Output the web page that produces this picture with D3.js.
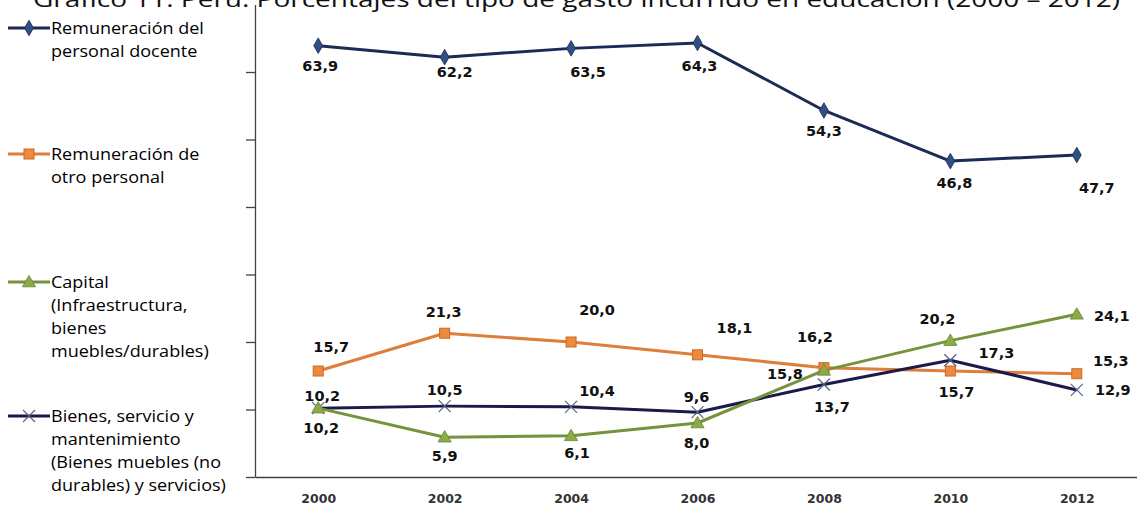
<!DOCTYPE html>
<html><head><meta charset="utf-8">
<script src="https://cdn.jsdelivr.net/npm/d3@7"></script>
<style>
html,body{margin:0;padding:0;background:#fff;}
svg{display:block;}
</style></head>
<body>
<svg id="chart" width="1137" height="506"></svg>
<script>
// ---- data ----
const years = ["2000","2002","2004","2006","2008","2010","2012"];
const docente = [63.9, 62.2, 63.5, 64.3, 54.3, 46.8, 47.7];
const otroPersonal = [15.7, 21.3, 20.0, 18.1, 16.2, 15.7, 15.3];
const capital = [10.2, 5.9, 6.1, 8.0, 15.8, 20.2, 24.1];
const bienes = [10.2, 10.5, 10.4, 9.6, 13.7, 17.3, 12.9];
const yTicks = [0, 10, 20, 30, 40, 50, 60];
const titleText = "Gráfico 11: Perú: Porcentajes del tipo de gasto incurrido en educación (2000 – 2012)";
const legendDocente = ["Remuneración del", "personal docente"];
const legendOtro = ["Remuneración de", "otro personal"];
const legendCapital = ["Capital", "(Infraestructura,", "bienes", "muebles/durables)"];
const legendBienes = ["Bienes, servicio y", "mantenimiento", "(Bienes muebles (no", "durables) y servicios)"];

// ---- layout (label offsets relative to the point) ----
const offDocente = [[2,20],[10,15],[17,24],[2,23],[0,21],[4,22],[20,33]];
const offOtro = [[13,-24],[-1,-21],[26,-32],[37,-27],[-9,-31],[6,21],[34,-13]];
const offCapital = [[3,20],[0,19],[6,17],[-1,20],[-39,4],[-13,-22],[35,2]];
const offBienes = [[4,-12],[0,-16],[26,-16],[-1,-15],[8,22],[46,-7],[36,0]];

const svg = d3.select("#chart");
const fmt = v => d3.format(".1f")(v).replace(".", ",");

const x = d3.scalePoint().domain(years).range([255, 1140]).padding(0.5);
const y = d3.scaleLinear().domain([0, 70]).range([477, 4.5]);

// title (cut off at the top, as in the reference)
svg.append("text")
  .attr("x", 33).attr("y", 7)
  .attr("font-family", "Open Sans, sans-serif")
  .attr("font-size", 22)
  .attr("fill", "#111")
  .attr("textLength", 1087).attr("lengthAdjust", "spacingAndGlyphs")
  .text(titleText);

// axes
const yAxis = svg.append("g").attr("transform", "translate(255,0)")
  .call(d3.axisLeft(y).tickValues(yTicks).tickSize(9).tickSizeOuter(0).tickFormat(""));
yAxis.selectAll("path,line").attr("stroke", "#404040").attr("stroke-width", 1.3);

const xAxis = svg.append("g").attr("transform", "translate(0,477)")
  .call(d3.axisBottom(x).tickSize(0).tickSizeOuter(0).tickPadding(17));
xAxis.select(".domain").attr("stroke", "#404040").attr("stroke-width", 1.3);
xAxis.selectAll("text")
  .attr("font-family", "DejaVu Sans, sans-serif")
  .attr("font-weight", "bold")
  .attr("font-size", 12.5)
  .attr("fill", "#333");

const series = [
  {vals: docente, off: offDocente, line: "#1c2a55", fill: "#2f5083", stroke: "#1c2a55", sym: "diamond"},
  {vals: otroPersonal, off: offOtro, line: "#df7d3a", fill: "#ee8a3c", stroke: "#c8692a", sym: "square"},
  {vals: capital, off: offCapital, line: "#76923c", fill: "#8bab46", stroke: "#6a8533", sym: "triangle"},
  {vals: bienes, off: offBienes, line: "#1b1b4b", fill: "none", stroke: "#5a6384", sym: "cross"}
];

function drawSymbol(g, sym, cx, cy, s) {
  if (sym === "diamond") {
    g.append("path").attr("d", d3.symbol(d3.symbolDiamond, 70)())
      .attr("transform", `translate(${cx},${cy})`).attr("fill", s.fill).attr("stroke", s.stroke).attr("stroke-width", 0.8);
  } else if (sym === "square") {
    g.append("rect").attr("x", cx - 5).attr("y", cy - 5).attr("width", 10).attr("height", 10)
      .attr("fill", s.fill).attr("stroke", s.stroke).attr("stroke-width", 1);
  } else if (sym === "triangle") {
    g.append("path").attr("d", d3.symbol(d3.symbolTriangle, 75)())
      .attr("transform", `translate(${cx},${cy + 1})`).attr("fill", s.fill).attr("stroke", s.stroke).attr("stroke-width", 0.8);
  } else {
    g.append("path").attr("d", `M${cx-6},${cy-6}L${cx+6},${cy+6}M${cx-6},${cy+6}L${cx+6},${cy-6}`)
      .attr("stroke", s.stroke).attr("stroke-width", 1.2).attr("fill", "none");
  }
}

const lineGen = d3.line().x((d, i) => x(years[i])).y(d => y(d));

const order = [1, 3, 2, 0];
order.forEach(k => {
  const s = series[k];
  svg.append("path").datum(s.vals).attr("d", lineGen)
    .attr("fill", "none").attr("stroke", s.line).attr("stroke-width", 3).attr("stroke-linejoin", "round");
});
order.forEach(k => {
  const s = series[k];
  const g = svg.append("g");
  s.vals.forEach((v, i) => drawSymbol(g, s.sym, x(years[i]), y(v), s));
});
series.forEach(s => {
  svg.append("g").selectAll("text").data(s.vals).join("text")
    .attr("x", (d, i) => x(years[i]) + s.off[i][0])
    .attr("y", (d, i) => y(d) + s.off[i][1])
    .attr("text-anchor", "middle")
    .attr("dominant-baseline", "central")
    .attr("font-family", "DejaVu Sans, sans-serif")
    .attr("font-weight", "bold")
    .attr("font-size", 14.5)
    .attr("fill", "#111")
    .text(d => fmt(d));
});

// legend
const legendItems = [
  {lines: legendDocente, ys: [28, 51], s: series[0]},
  {lines: legendOtro, ys: [154, 177], s: series[1]},
  {lines: legendCapital, ys: [282, 305, 328, 351], s: series[2]},
  {lines: legendBienes, ys: [416, 439, 462, 485], s: series[3]}
];
const lg = svg.append("g");
const probe = lg.append("text").attr("font-family", "Open Sans, sans-serif").attr("font-size", 15.5).text(legendDocente[0]);
const w = probe.node().getComputedTextLength();
probe.remove();
const sx = 153 / w;
legendItems.forEach(it => {
  const ly = it.ys[0];
  lg.append("line").attr("x1", 8).attr("x2", 50).attr("y1", ly).attr("y2", ly)
    .attr("stroke", it.s.line).attr("stroke-width", 3);
  drawSymbol(lg, it.s.sym, 29, ly, it.s);
  const tg = lg.append("g").attr("transform", `translate(51,0) scale(${sx},1)`);
  it.lines.forEach((t, j) => {
    tg.append("text").attr("x", 0).attr("y", it.ys[j])
      .attr("dominant-baseline", "central")
      .attr("font-family", "Open Sans, sans-serif")
      .attr("font-size", 15.5)
      .attr("fill", "#000")
      .text(t);
  });
});
</script>
</body></html>
